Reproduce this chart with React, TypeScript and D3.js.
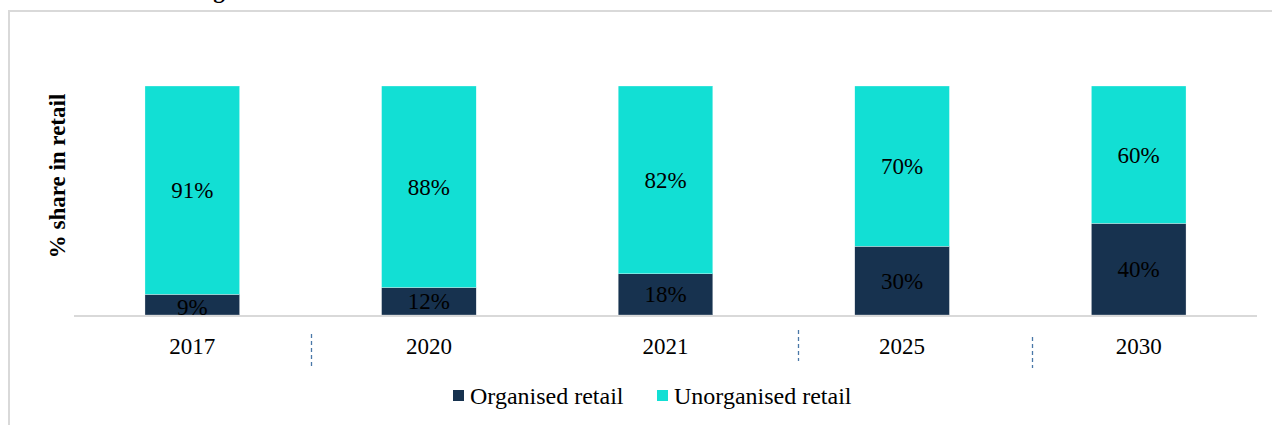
import React from "react";
import * as d3 from "d3";

const years = ["2017", "2020", "2021", "2025", "2030"];
const organised = [9, 12, 18, 30, 40];
const unorganised = [91, 88, 82, 70, 60];
const seriesNames = ["Organised retail", "Unorganised retail"];
const seriesColors = ["#17324f", "#12dfd4"];
// decorative dashed separators: boundary index between bands, x nudge, y range
const separators = [
  { boundary: 1, dx: 0, y0: 334, y1: 366 },
  { boundary: 3, dx: 14, y0: 330, y1: 361 },
  { boundary: 4, dx: 12, y0: 337, y1: 368 },
];

const W = 1272;
const H = 425;
const serif = "'Liberation Serif', 'Times New Roman', serif";

export default function App() {
  const x = d3.scaleBand<string>().domain(years).range([74, 1257]).paddingInner(0.6).paddingOuter(0.3);
  const y = d3.scaleLinear().domain([0, 100]).range([315, 86]);
  const data = years.map((yr, i) => ({ year: yr, organised: organised[i], unorganised: unorganised[i] }));
  const stack = d3.stack<any>().keys(["organised", "unorganised"])(data);
  const step = x.step();
  const x0 = 74;

  return (
    <svg width={W} height={H} style={{ position: "absolute", left: 0, top: 0, background: "#fff" }}>
      <rect x={0} y={0} width={W} height={H} fill="#fff" />
      <text x={8} y={-2} fontFamily={serif} fontWeight="bold" fontSize={23} fill="#000">
        Chart 1: Share of Organised Retail
      </text>
      <rect x={9} y={11} width={1400} height={600} fill="none" stroke="#d9d9d9" strokeWidth={2} />
      {stack.map((layer, li) =>
        layer.map((d, i) => (
          <rect
            key={`${li}-${i}`}
            x={x(years[i])}
            y={y(d[1])}
            width={x.bandwidth()}
            height={y(d[0]) - y(d[1])}
            fill={seriesColors[li]}
            stroke="#ffffff"
            strokeWidth={0.3}
          />
        ))
      )}
      <line x1={74} x2={1257} y1={316} y2={316} stroke="#d9d9d9" strokeWidth={2} />
      {stack.map((layer, li) =>
        layer.map((d, i) => {
          const v = d[1] - d[0];
          const cy = (y(d[0]) + y(d[1])) / 2;
          const yy = li === 0 && v < 10 ? cy + 2 : cy;
          return (
            <text
              key={`l${li}-${i}`}
              x={(x(years[i]) as number) + x.bandwidth() / 2}
              y={yy}
              dy="0.35em"
              textAnchor="middle"
              fontFamily={serif}
              fontSize={23}
              fill="#000"
            >
              {`${v}%`}
            </text>
          );
        })
      )}
      {years.map((yr) => (
        <text
          key={yr}
          x={(x(yr) as number) + x.bandwidth() / 2}
          y={354}
          textAnchor="middle"
          fontFamily={serif}
          fontSize={23}
          fill="#000"
        >
          {yr}
        </text>
      ))}
      {separators.map((s, i) => {
        const sx = Math.round(x0 + s.boundary * step + s.dx) + 0.5;
        return (
          <line key={i} x1={sx} x2={sx} y1={s.y0} y2={s.y1} stroke="#4a78a8" strokeWidth={1.3} strokeDasharray="4,3" />
        );
      })}
      <text
        transform={`translate(65,176) rotate(-90)`}
        textAnchor="middle"
        fontFamily={serif}
        fontWeight="bold"
        fontSize={23}
        fill="#000"
      >
        % share in retail
      </text>
      <g>
        <rect x={453} y={390} width={11} height={11} fill={seriesColors[0]} />
        <text x={470} y={404} fontFamily={serif} fontSize={24} fill="#000">{seriesNames[0]}</text>
        <rect x={657} y={390} width={11} height={11} fill={seriesColors[1]} />
        <text x={674} y={404} fontFamily={serif} fontSize={24} fill="#000">{seriesNames[1]}</text>
      </g>
    </svg>
  );
}
